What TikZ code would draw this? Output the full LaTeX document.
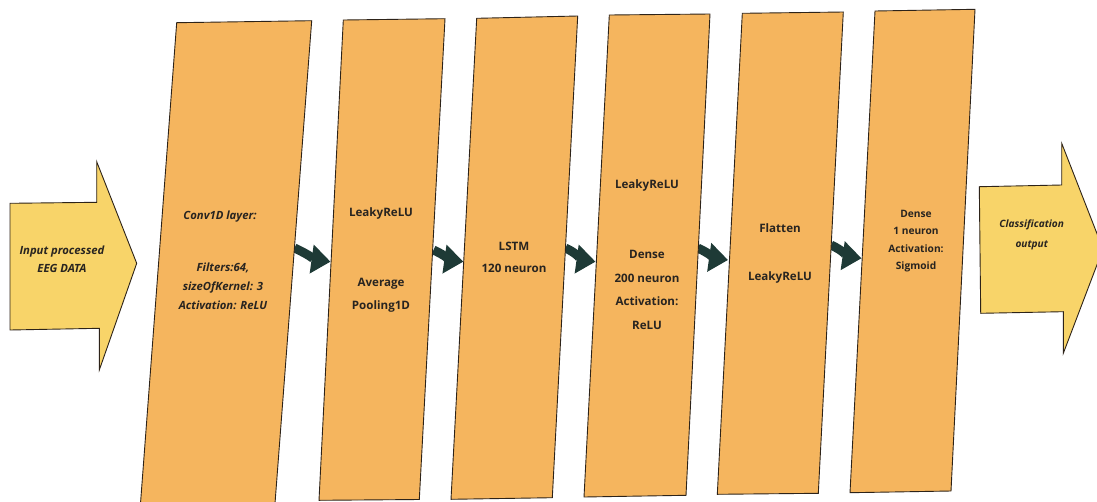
\documentclass[tikz,border=0pt]{standalone}
\usepackage{fontspec}
\setmainfont{Open Sans}
\usetikzlibrary{arrows.meta}
\definecolor{layerfill}{RGB}{245,181,94}
\definecolor{ioarrow}{RGB}{248,212,105}
\definecolor{linkcol}{RGB}{30,58,54}
\definecolor{edgecol}{RGB}{45,35,25}
\definecolor{inkcol}{RGB}{40,36,32}
\tikzset{
  layer/.style={fill=layerfill, draw=edgecol, line width=0.9pt, line join=miter},
  iobig/.style={fill=ioarrow, draw=edgecol, line width=0.9pt, line join=miter},
  link/.style={draw=linkcol, line width=9pt,
    -{Triangle[length=19pt,width=28pt]}},
  lbl/.style={align=center, inner sep=0pt, text=inkcol},
  up/.style={lbl, font=\bfseries\fontsize{11.6}{23.5}\selectfont},
  upsmall/.style={lbl, font=\bfseries\fontsize{10.2}{17.3}\selectfont},
  slant/.style={lbl, font=\bfseries\itshape\fontsize{11.3}{19}\selectfont},
}
\begin{document}
\begin{tikzpicture}[x=1pt,y=-1pt]
\useasboundingbox (0,0) rectangle (1097,501);

% connection points on the layer edges
\coordinate (b1e) at (294.5,248);  \coordinate (b2w) at (330.5,261.7);
\coordinate (b2e) at (433.5,250);  \coordinate (b3w) at (463.3,261.7);
\coordinate (b3e) at (565.4,248);  \coordinate (b4w) at (595.5,261.7);
\coordinate (b4e) at (697.8,248);  \coordinate (b5w) at (728.0,260);
\coordinate (b5e) at (831.0,245);  \coordinate (b6w) at (861.5,258.3);

% links between layers
\draw[link] (b1e) to[out=-25,in=172] (b2w);
\draw[link] (b2e) to[out=-25,in=172] (b3w);
\draw[link] (b3e) to[out=-25,in=172] (b4w);
\draw[link] (b4e) to[out=-25,in=172] (b5w);
\draw[link] (b5e) to[out=-25,in=172] (b6w);

% input and output arrows
\draw[iobig] (10,203.3) -- (96.7,202.3) -- (96.7,161.7) -- (136.7,263.3)
  -- (99.3,370) -- (99.3,328.3) -- (10,330) -- cycle;
\draw[iobig] (979.3,186.7) -- (1061.7,185) -- (1061.7,143.3) -- (1103,249)
  -- (1063.3,353.3) -- (1063.3,311.7) -- (980.7,313.3) -- cycle;

% layer blocks
\draw[layer] (176.7,22.7) -- (311.7,20.7) -- (274.8,506) -- (140.3,506) -- cycle;
\draw[layer] (343.3,20) -- (445,18.7) -- (419.3,499.5) -- (319,500.3) -- cycle;
\draw[layer] (476.7,18.3) -- (577.7,16) -- (552.3,497.7) -- (451,499.3) -- cycle;
\draw[layer] (609.3,15) -- (710,14) -- (686,495.3) -- (584,497) -- cycle;
\draw[layer] (742.3,13.3) -- (843.3,12) -- (818.3,493.3) -- (717.3,494.3) -- cycle;
\draw[layer] (875,11) -- (975,9.3) -- (951,491) -- (850,492.7) -- cycle;

% texts
\node[slant, font=\bfseries\itshape\fontsize{11.3}{18}\selectfont] (tin) at (62,259) {Input processed\\EEG DATA};
\node[slant] (t1a) at (220,216.7) {Conv1D layer:};
\node[slant] (t1b) at (223,286) {Filters:64,\\sizeOfKernel: 3\\Activation: ReLU};
\node[up] (t2a) at (381,213) {LeakyReLU};
\node[up] (t2b) at (381,295) {Average\\Pooling1D};
\node[up, font=\bfseries\fontsize{11.6}{22}\selectfont] (t3) at (514,257) {LSTM\\120 neuron};
\node[up] (t4a) at (647,185) {LeakyReLU};
\node[up] (t4b) at (647,290) {Dense\\200 neuron\\Activation:\\ReLU};
\node[up] (t5a) at (780,228) {Flatten};
\node[up] (t5b) at (780,277) {LeakyReLU};
\node[upsmall] (t6) at (916,241) {Dense\\1 neuron\\Activation:\\Sigmoid};
\node[slant, font=\bfseries\itshape\fontsize{10.1}{20}\selectfont] (tout) at (1031.7,235) {Classification\\output};
\end{tikzpicture}
\end{document}
